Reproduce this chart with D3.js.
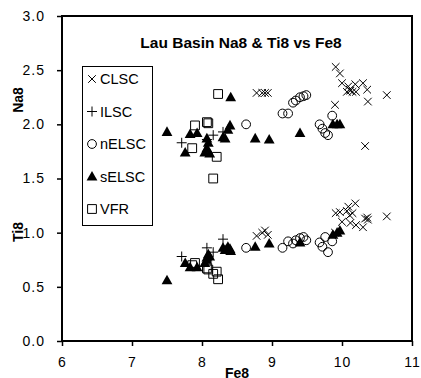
<!DOCTYPE html>
<html><head><meta charset="utf-8">
<script src="https://cdn.jsdelivr.net/npm/d3@7"></script>
<style>body{margin:0;background:#fff}svg{display:block}</style>
</head><body><svg id="c" width="421" height="378"></svg>
<script>
// ---- data ----
const seriesNames = ["CLSC", "ILSC", "nELSC", "sELSC", "VFR"];

const clscFe8 = [8.78, 8.86, 8.90, 8.94, 9.91, 9.97, 10.00, 10.09, 10.11, 10.19, 10.30, 10.36, 10.37, 10.64, 9.90, 10.33, 10.07, 10.12, 10.15, 10.20];
const clscNa8 = [2.29, 2.29, 2.29, 2.29, 2.53, 2.47, 2.38, 2.35, 2.32, 2.37, 2.38, 2.32, 2.21, 2.27, 2.18, 1.80, 2.30, 2.31, 2.30, 2.30];
const clscTi8 = [0.97, 1.00, 1.02, 0.98, 1.18, 1.19, 1.10, 1.24, 1.16, 1.27, 1.05, 1.14, 1.12, 1.15, 1.00, 1.13, 1.20, 1.09, 1.18, 1.07];

const ilscFe8 = [7.71, 8.07, 8.16, 8.30];
const ilscNa8 = [1.83, 1.86, 1.90, 1.93];
const ilscTi8 = [0.78, 0.86, 0.82, 0.94];

const nelscFe8 = [8.63, 9.15, 9.23, 9.30, 9.34, 9.40, 9.45, 9.49, 9.68, 9.72, 9.76, 9.80, 9.86];
const nelscNa8 = [2.00, 2.10, 2.10, 2.20, 2.22, 2.25, 2.26, 2.27, 2.00, 1.96, 1.92, 1.90, 2.08];
const nelscTi8 = [0.86, 0.86, 0.92, 0.90, 0.93, 0.95, 0.96, 0.93, 0.91, 0.87, 0.96, 0.82, 0.92];

const selscFe8 = [7.50, 7.76, 7.83, 7.93, 8.04, 8.07, 8.09, 8.07, 8.11, 8.30, 8.33, 8.37, 8.40, 8.41, 8.76, 8.96, 9.40, 9.87, 9.93, 9.97];
const selscNa8 = [1.93, 1.74, 1.91, 1.92, 1.74, 1.87, 1.83, 1.78, 1.73, 1.88, 1.87, 1.95, 1.99, 2.25, 1.87, 1.86, 1.92, 2.00, 2.00, 2.00];
const selscTi8 = [0.56, 0.72, 0.68, 0.68, 0.72, 0.77, 0.80, 0.75, 0.78, 0.86, 0.84, 0.87, 0.85, 0.83, 0.87, 0.90, 0.91, 0.98, 1.00, 1.02];

const vfrFe8 = [8.23, 7.90, 8.07, 8.09, 7.86, 8.21, 8.16];
const vfrNa8 = [2.28, 1.99, 2.02, 2.01, 1.78, 1.70, 1.50];
const vfrTi8 = [0.57, 0.72, 0.67, 0.66, 0.70, 0.64, 0.62];

const xTicks = [6, 7, 8, 9, 10, 11];
const yTicks = [0, 0.5, 1.0, 1.5, 2.0, 2.5, 3.0];
const titleText = "Lau Basin Na8 & Ti8 vs Fe8";

// ---- build ----
const fe = [clscFe8, ilscFe8, nelscFe8, selscFe8, vfrFe8];
const na = [clscNa8, ilscNa8, nelscNa8, selscNa8, vfrNa8];
const ti = [clscTi8, ilscTi8, nelscTi8, selscTi8, vfrTi8];

const svg = d3.select("#c");
const font = "'Liberation Sans', Arial, Helvetica, sans-serif";
const L = 62, R = 412, T = 16, B = 341;
const x = d3.scaleLinear().domain([6, 11]).range([L, R]);
const y = d3.scaleLinear().domain([0, 3]).range([B, T]);

const shapes = {
  CLSC: "M-3.8,-3.8L3.8,3.8M-3.8,3.8L3.8,-3.8",
  ILSC: "M-5,0L5,0M0,-5L0,5",
  sELSC: "M0,-5.6L5.4,4L-5.4,4Z",
  VFR: "M-4.4,-4.4H4.4V4.4H-4.4Z"
};
function drawMarker(g, name) {
  if (name === "nELSC") {
    g.append("circle").attr("r", 4.4).attr("fill", "none").attr("stroke", "#000").attr("stroke-width", 1);
  } else if (name === "sELSC") {
    g.append("path").attr("d", shapes[name]).attr("fill", "#000");
  } else {
    g.append("path").attr("d", shapes[name]).attr("fill", "none").attr("stroke", "#000").attr("stroke-width", 1);
  }
}

// axes
const gx = svg.append("g").attr("transform", `translate(0,${B})`)
  .call(d3.axisBottom(x).tickValues(xTicks).tickFormat(d3.format("d")).tickSize(5).tickPadding(11));
const gy = svg.append("g").attr("transform", `translate(${L},0)`)
  .call(d3.axisLeft(y).tickValues(yTicks).tickFormat(d3.format(".1f")).tickSize(5).tickPadding(12));
[gx, gy].forEach(g => {
  g.select(".domain").remove();
  g.selectAll("line").attr("stroke", "#000").attr("stroke-width", 1.5);
  g.selectAll("text").attr("font-family", font).attr("font-size", 14).attr("fill", "#000").attr("letter-spacing", 1);
});

// frame
svg.append("rect").attr("x", L).attr("y", T).attr("width", R - L).attr("height", B - T)
  .attr("fill", "none").attr("stroke", "#000").attr("stroke-width", 2);

// points
seriesNames.forEach((name, i) => {
  const pts = fe[i].map((f, j) => [f, na[i][j]]).concat(fe[i].map((f, j) => [f, ti[i][j]]));
  pts.forEach(p => {
    const g = svg.append("g").attr("transform", `translate(${x(p[0])},${y(p[1])})`);
    drawMarker(g, name);
  });
});

// title
svg.append("text").attr("x", 241).attr("y", 48).attr("text-anchor", "middle")
  .attr("font-family", font).attr("font-size", 15.5).attr("font-weight", "bold").text(titleText);

// axis titles
svg.append("text").attr("x", 237).attr("y", 378).attr("text-anchor", "middle")
  .attr("font-family", font).attr("font-size", 14).attr("font-weight", "bold").text("Fe8");
svg.append("text").attr("transform", "translate(23,100) rotate(-90)").attr("text-anchor", "middle")
  .attr("font-family", font).attr("font-size", 14).attr("font-weight", "bold").text("Na8");
svg.append("text").attr("transform", "translate(23,232) rotate(-90)").attr("text-anchor", "middle")
  .attr("font-family", font).attr("font-size", 14).attr("font-weight", "bold").text("Ti8");

// legend
const lg = svg.append("g");
lg.append("rect").attr("x", 82.5).attr("y", 66.5).attr("width", 70).attr("height", 159)
  .attr("fill", "#fff").attr("stroke", "#000").attr("stroke-width", 1);
const rowY = d3.scalePoint().domain(seriesNames).range([79, 209]);
seriesNames.forEach(name => {
  const g = lg.append("g").attr("transform", `translate(92,${rowY(name)})`);
  drawMarker(g, name);
  lg.append("text").attr("x", 100).attr("y", rowY(name)).attr("dy", "0.36em")
    .attr("font-family", font).attr("font-size", 14.5).attr("fill", "#000").text(name);
});
</script>
</body></html>
